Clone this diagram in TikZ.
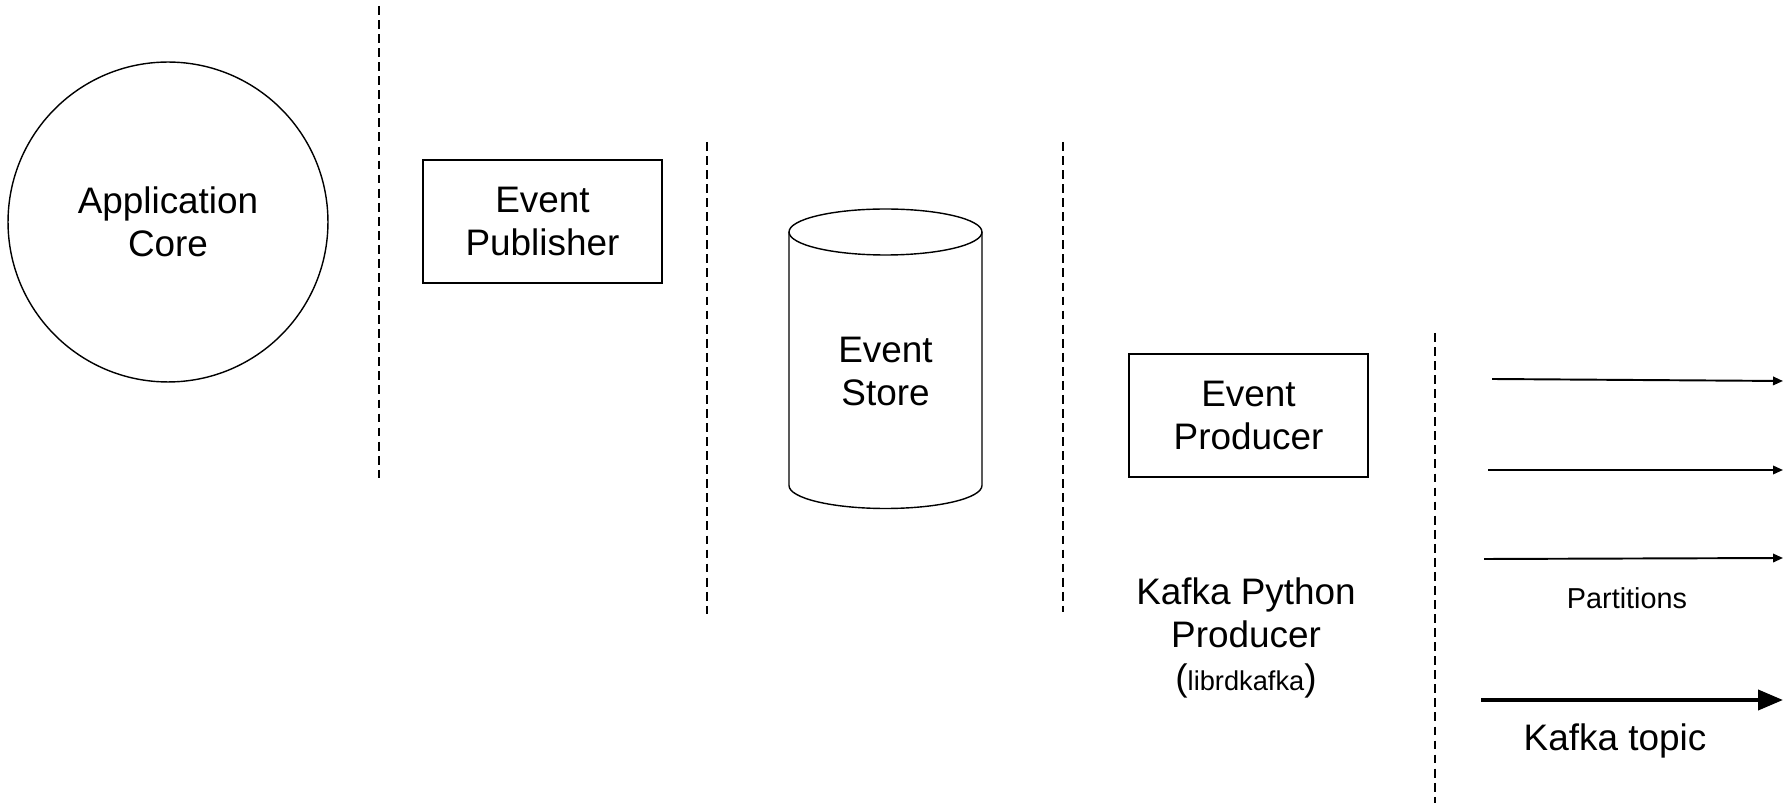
\documentclass[tikz,border=0pt]{standalone}
\usepackage{fontspec}
\setmainfont{Liberation Sans}
\usetikzlibrary{arrows.meta}
\tikzset{
  lbl/.style={font=\fontsize{21}{24.4}\selectfont, align=center, inner sep=0pt},
  smalllbl/.style={font=\fontsize{16.4}{19}\selectfont, inner sep=0pt},
  boxnode/.style={draw, line width=0.8pt, minimum width=4.78cm, minimum height=2.46cm, lbl},
  divider/.style={line width=0.8pt, dash pattern=on 5pt off 3pt},
  partarrow/.style={line width=1.1pt, -{Triangle[length=0.2cm, width=0.17cm]}},
  topicarrow/.style={line width=2.3pt, -{Triangle[length=0.5cm, width=0.4cm]}}
}
\begin{document}
\begin{tikzpicture}[x=0.02cm, y=-0.02cm]
  \useasboundingbox (0,0) rectangle (1783,803);

  % application core
  \node[draw, circle, line width=0.8pt, minimum size=6.4cm, lbl] (core) at (168,222) {Application\\Core};

  % layer separators
  \coordinate (d1t) at (379,6);    \coordinate (d1b) at (379,478);
  \coordinate (d2t) at (707,142);  \coordinate (d2b) at (707,614);
  \coordinate (d3t) at (1063,142); \coordinate (d3b) at (1063,612);
  \coordinate (d4t) at (1435,333); \coordinate (d4b) at (1435,803);
  \draw[divider] (d1t) -- (d1b);
  \draw[divider] (d2t) -- (d2b);
  \draw[divider] (d3t) -- (d3b);
  \draw[divider] (d4t) -- (d4b);

  % publisher
  \node[boxnode] (pub) at (542.5,221.5) {Event\\Publisher};

  % event store cylinder
  \draw[line width=0.8pt] (789,232) -- (789,485.5) arc (180:360:1.93cm and 0.46cm) -- (982,232);
  \draw[line width=0.8pt] (885.5,232) ellipse (1.93cm and 0.46cm);
  \node[lbl] (store) at (885.5,371.5) {Event\\Store};

  % producer
  \node[boxnode] (prod) at (1248.5,415.5) {Event\\Producer};
  \node[lbl] (kpp) at (1246,638) {Kafka Python\\Producer\\({\fontsize{15.5}{18}\selectfont librdkafka})};

  % partitions
  \coordinate (p1s) at (1492,379);   \coordinate (p1e) at (1783,381);
  \coordinate (p2s) at (1488,470);   \coordinate (p2e) at (1783,470);
  \coordinate (p3s) at (1484,559);   \coordinate (p3e) at (1783,558);
  \draw[partarrow] (p1s) -- (p1e);
  \draw[partarrow] (p2s) -- (p2e);
  \draw[partarrow] (p3s) -- (p3e);
  \node[smalllbl] (parts) at (1627,598) {Partitions};

  % topic
  \coordinate (ts) at (1481,700); \coordinate (te) at (1783,700);
  \draw[topicarrow] (ts) -- (te);
  \node[lbl] (topic) at (1615,741) {Kafka topic};
\end{tikzpicture}
\end{document}
